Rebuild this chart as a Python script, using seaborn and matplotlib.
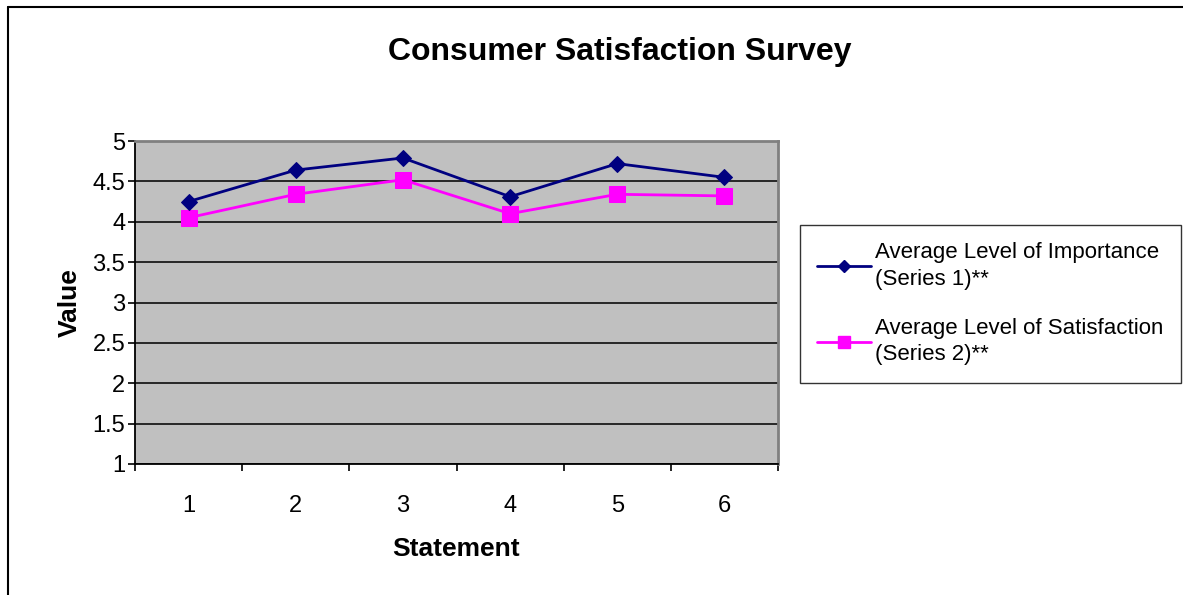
import matplotlib
matplotlib.use("Agg")
import matplotlib.pyplot as plt
from matplotlib.lines import Line2D
import numpy as np
import pandas as pd
import seaborn as sns

# Survey results per statement
statements = [1, 2, 3, 4, 5, 6]
importance = [4.25, 4.64, 4.79, 4.31, 4.72, 4.55]
satisfaction = [4.05, 4.34, 4.52, 4.10, 4.34, 4.32]
series_labels = ["Average Level of Importance\n(Series 1)**",
                 "Average Level of Satisfaction\n(Series 2)**"]
y_ticks = [1, 1.5, 2, 2.5, 3, 3.5, 4, 4.5, 5]
y_tick_labels = ["1", "1.5", "2", "2.5", "3", "3.5", "4", "4.5", "5"]

sns.set_style("white")
plt.rcParams["font.family"] = ["Liberation Sans", "DejaVu Sans"]
plt.rcParams["text.color"] = "black"
plt.rcParams["axes.labelcolor"] = "black"
plt.rcParams["xtick.color"] = "black"
plt.rcParams["ytick.color"] = "black"

W, H = 1183, 595
fig = plt.figure(figsize=(W / 100, H / 100), dpi=100)
ax = fig.add_axes([135 / W, 1 - 464 / H, (778 - 135) / W, (464 - 141) / H])
ax.set_facecolor("#C0C0C0")

df = pd.DataFrame({"statement": statements,
                   "importance": importance,
                   "satisfaction": satisfaction})

navy = "#000080"
magenta = "#FF00FF"
sns.lineplot(data=df, x="statement", y="importance", ax=ax, color=navy,
             marker="D", markersize=8, markeredgecolor=navy, linewidth=2,
             zorder=4)
sns.lineplot(data=df, x="statement", y="satisfaction", ax=ax, color=magenta,
             marker="s", markersize=11, markeredgecolor=magenta, linewidth=2,
             zorder=3)

ax.set_xlim(0.5, 6.5)
ax.set_ylim(1, 5)
ax.set_yticks(y_ticks)
ax.set_yticklabels(y_tick_labels)
ax.set_xticks(statements)
ax.set_xticklabels([str(s) for s in statements])
ax.set_xticks(np.arange(0.5, 6.6, 1.0), minor=True)
ax.tick_params(axis="x", which="major", length=0, pad=22, labelsize=17,
               labelcolor="black")
ax.tick_params(axis="x", which="minor", length=5, width=1.2, direction="out",
               color="black", bottom=True)
ax.tick_params(axis="y", which="major", length=5, width=1.2, direction="out",
               color="black", pad=2, labelsize=17, left=True,
               labelcolor="black")

ax.grid(axis="y", color="#1a1a1a", linewidth=1.3)
ax.grid(axis="x", visible=False)
ax.set_axisbelow(True)

for side in ["left", "bottom"]:
    ax.spines[side].set_color("black")
    ax.spines[side].set_linewidth(1.3)
for side in ["top", "right"]:
    ax.spines[side].set_color("#808080")
    ax.spines[side].set_linewidth(2)

ax.set_xlabel("Statement", fontsize=19, fontweight="bold", labelpad=15,
              color="black")
ax.set_ylabel("Value", fontsize=19, fontweight="bold", labelpad=8,
              color="black")

fig.text(620 / W, 1 - 52 / H, "Consumer Satisfaction Survey", fontsize=23,
         fontweight="bold", ha="center", va="center", color="black")

handles = [
    Line2D([], [], color=navy, marker="D", markersize=6, linewidth=2),
    Line2D([], [], color=magenta, marker="s", markersize=8, linewidth=2),
]
leg = fig.legend(handles, series_labels, loc="upper left",
                 bbox_to_anchor=(800 / W, 1 - 225 / H),
                 fontsize=16, frameon=True, fancybox=False,
                 handlelength=2.4, handletextpad=0.2, labelspacing=1.25,
                 borderpad=0.78, borderaxespad=0)
leg.get_frame().set_edgecolor("black")
leg.get_frame().set_linewidth(1.0)
for t in leg.get_texts():
    t.set_color("black")
    t.set_linespacing(1.35)

# Outer chart frame: left and top edges
fig.add_artist(Line2D([8 / W, 8 / W], [0, 1 - 7 / H], transform=fig.transFigure,
                      color="black", linewidth=1.5))
fig.add_artist(Line2D([8 / W, 1], [1 - 7 / H, 1 - 7 / H],
                      transform=fig.transFigure, color="black", linewidth=1.5))

fig.savefig("out.png", dpi=100)
